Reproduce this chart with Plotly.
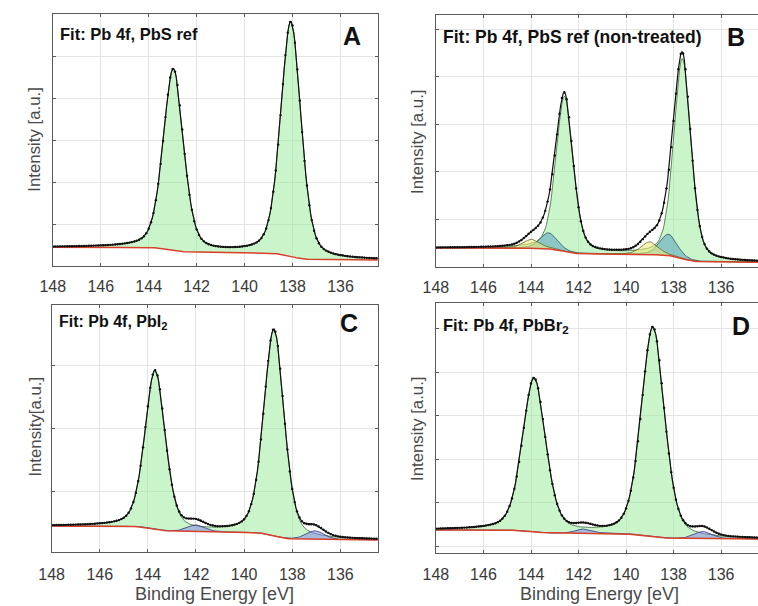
import numpy as np
import plotly.graph_objects as go

W, H = 758, 606

# ---------------- data ----------------
x_lo, x_hi = 134.45, 148.0
x_ticks = [148, 146, 144, 142, 140, 138, 136]

# Panel A : Pb 4f, PbS ref
A_centers = [142.97, 138.07]
A_heights = [4.30, 5.58]
A_fwhm = [1.0, 1.0]
A_bg = [0.445, 0.14]          # background level left / right

# Panel B : Pb 4f, PbS ref (non-treated)
B_main_centers = [142.59, 137.63]
B_main_heights = [3.25, 4.20]
B_main_fwhm = [0.85, 0.85]
B_blue_centers = [143.26, 138.22]
B_blue_heights = [0.34, 0.45]
B_blue_fwhm = [0.85, 0.85]
B_yel_centers = [143.96, 139.00]
B_yel_heights = [0.19, 0.27]
B_yel_fwhm = [0.85, 0.85]
B_bg = [0.40, 0.10]

# Panel C : Pb 4f, PbI2
C_main_centers = [143.70, 138.76]
C_main_heights = [2.50, 3.26]
C_main_fwhm = [1.0, 1.0]
C_blue_centers = [142.00, 137.05]
C_blue_heights = [0.11, 0.14]
C_blue_fwhm = [0.9, 0.9]
C_bg = [0.45, 0.23]

# Panel D : Pb 4f, PbBr2
D_main_centers = [143.87, 138.87]
D_main_heights = [3.52, 4.80]
D_main_fwhm = [1.15, 1.15]
D_blue_centers = [141.76, 136.75]
D_blue_heights = [0.11, 0.17]
D_blue_fwhm = [0.9, 0.9]
D_bg = [0.37, 0.16]

# -----------------------------------------------------------------
ETA = 0.35
xg = np.round(np.arange(x_lo - 0.05, x_hi + 0.051, 0.05), 3)


def pv(x, c, h, w, eta=ETA):
    d = (x - c) / w
    return h * (eta / (1 + 4 * d * d) + (1 - eta) * np.exp(-4 * np.log(2) * d * d))


def doublet(cs, hs, ws):
    return sum(pv(xg, c, h, w) for c, h, w in zip(cs, hs, ws))


def shirley(sig, left, right):
    cum = np.cumsum(sig)
    cum = cum / cum[-1]
    return right + (left - right) * cum


GREEN = ("rgba(150,235,150,0.50)", "rgba(40,90,40,0.9)")
BLUE_B = ("rgba(90,160,195,0.55)", "rgba(30,70,90,0.9)")
YELLOW = ("rgba(240,235,120,0.55)", "rgba(90,90,30,0.9)")
LAV = ("rgba(130,130,235,0.50)", "rgba(40,40,110,0.9)")

fig = go.Figure()


def add_panel(k, comps, bg_lr):
    xa, ya = ("x", "y") if k == 1 else (f"x{k}", f"y{k}")
    sigs = [doublet(*c[0]) for c in comps]
    total = sum(sigs)
    bg = shirley(total, *bg_lr)
    for s, (_, col) in zip(sigs, comps):
        fig.add_trace(go.Scatter(x=xg, y=bg, mode="lines", line=dict(width=0),
                                 xaxis=xa, yaxis=ya, showlegend=False, hoverinfo="skip"))
        fig.add_trace(go.Scatter(x=xg, y=bg + s, mode="lines", fill="tonexty",
                                 fillcolor=col[0], line=dict(color=col[1], width=0.8),
                                 xaxis=xa, yaxis=ya, showlegend=False))
    fig.add_trace(go.Scatter(x=xg, y=bg, mode="lines", line=dict(color="#d8402a", width=1.5),
                             xaxis=xa, yaxis=ya, showlegend=False))
    env = bg + total
    fig.add_trace(go.Scatter(x=xg, y=env, mode="lines", line=dict(color="#111", width=1.2),
                             xaxis=xa, yaxis=ya, showlegend=False))
    fig.add_trace(go.Scatter(x=xg[::2], y=env[::2], mode="markers",
                             marker=dict(color="#111", size=2.4),
                             xaxis=xa, yaxis=ya, showlegend=False))


add_panel(1, [((A_centers, A_heights, A_fwhm), GREEN)], A_bg)
add_panel(2, [((B_main_centers, B_main_heights, B_main_fwhm), GREEN),
              ((B_blue_centers, B_blue_heights, B_blue_fwhm), BLUE_B),
              ((B_yel_centers, B_yel_heights, B_yel_fwhm), YELLOW)], B_bg)
add_panel(3, [((C_main_centers, C_main_heights, C_main_fwhm), GREEN),
              ((C_blue_centers, C_blue_heights, C_blue_fwhm), LAV)], C_bg)
add_panel(4, [((D_main_centers, D_main_heights, D_main_fwhm), GREEN),
              ((D_blue_centers, D_blue_heights, D_blue_fwhm), LAV)], D_bg)


def px(v):
    return v / W


def py(v):
    return 1 - v / H


FONT = "Liberation Sans, Arial, sans-serif"
frame = "#5a5a5a"
grid = "#e4e4e4"

panels = {
    1: dict(xd=[px(40.5), px(371)], yd=[py(266), py(14)], yr=[0, 6], right=True, stand=6),
    2: dict(xd=[px(430.3), 1.0], yd=[py(267), py(15)], yr=[0, 5.3], right=False, stand=6),
    3: dict(xd=[px(39.3), px(371)], yd=[py(552), py(305)], yr=[0.04, 3.95], right=True, stand=8),
    4: dict(xd=[px(430.3), 1.0], yd=[py(553), py(303)], yr=[-0.16, 5.59], right=False, stand=7),
}
lay = {}
for k, p in panels.items():
    sx = "xaxis" if k == 1 else f"xaxis{k}"
    sy = "yaxis" if k == 1 else f"yaxis{k}"
    yid = "y" if k == 1 else f"y{k}"
    xid = "x" if k == 1 else f"x{k}"
    lay[sx] = dict(domain=p["xd"], range=[x_hi, x_lo], anchor=yid,
                   tickvals=x_ticks, ticktext=[str(t) for t in x_ticks],
                   showgrid=True, gridcolor=grid, gridwidth=1,
                   showline=True, linecolor=frame, linewidth=1, mirror="ticks",
                   ticks="inside", ticklen=3, tickcolor=frame,
                   tickfont=dict(family=FONT, size=16, color="#3a3a3a"),
                   ticklabelstandoff=p["stand"], zeroline=False)
    lay[sy] = dict(domain=p["yd"], range=p["yr"], anchor=xid, dtick=1, tick0=0,
                   showticklabels=False, showgrid=True, gridcolor=grid, gridwidth=1,
                   showline=True, linecolor=frame, linewidth=1,
                   mirror="ticks" if p["right"] else False,
                   ticks="inside", ticklen=3, tickcolor=frame, zeroline=False)

ann = []


def text(x, y, s, size, color="#111", angle=0, xanchor="center"):
    ann.append(dict(x=px(x), y=py(y), xref="paper", yref="paper", text=s, showarrow=False,
                    xanchor=xanchor, yanchor="middle", textangle=angle,
                    font=dict(family=FONT, size=size, color=color)))


text(46, 34, "<b>Fit: Pb 4f, PbS ref</b>", 16.5, xanchor="left")
text(345, 36, "<b>A</b>", 25)
text(435, 37, "<b>Fit: Pb 4f, PbS ref (non-treated)</b>", 17.5, xanchor="left")
text(736, 37, "<b>B</b>", 25)
text(45, 322, "<b>Fit: Pb 4f, PbI<sub>2</sub></b>", 16, xanchor="left")
text(342, 323, "<b>C</b>", 25)
text(435, 326, "<b>Fit: Pb 4f, PbBr<sub>2</sub></b>", 16.5, xanchor="left")
text(741, 326, "<b>D</b>", 25)

text(21, 140, "Intensity [a.u.]", 16.8, "#4a4a4a", -90)
text(411, 142, "Intensity [a.u.]", 16.8, "#4a4a4a", -90)
text(22, 427, "Intensity[a.u.]", 16.8, "#4a4a4a", -90)
text(411, 429, "Intensity [a.u.]", 16.8, "#4a4a4a", -90)
text(205, 594, "Binding Energy [eV]", 18, "#4a4a4a")
text(597, 594, "Binding Energy [eV]", 18, "#4a4a4a")

fig.update_layout(width=W, height=H, margin=dict(l=0, r=0, t=0, b=0),
                  paper_bgcolor="white", plot_bgcolor="white",
                  annotations=ann, showlegend=False, **lay)

fig.write_html("out.html")
